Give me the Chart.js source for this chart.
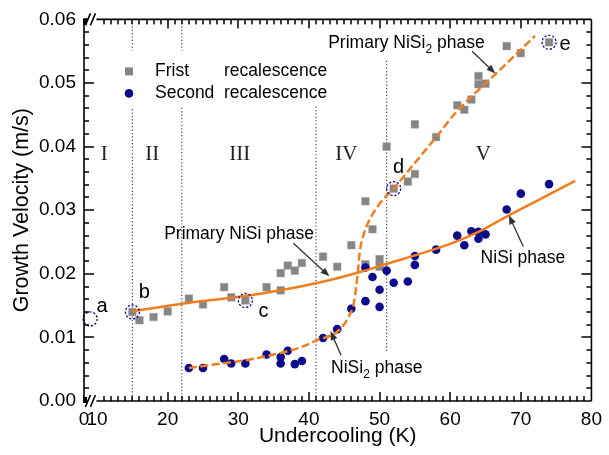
<!DOCTYPE html>
<html>
<head>
<meta charset="utf-8">
<script src="https://cdn.jsdelivr.net/npm/chart.js@4.4.1/dist/chart.umd.min.js"></script>
<style>
  html, body { margin: 0; padding: 0; background: #fff; }
</style>
</head>
<body>
<canvas id="chart" width="609" height="455"></canvas>
<script>
// first recalescence (grey squares)
const firstX = [15, 16, 18, 20, 23, 25, 28, 29, 31, 34, 36, 36, 37, 38, 39, 42, 44, 46, 48, 48, 49, 50, 50,
    51, 52, 54, 55, 55, 58, 61, 62, 63, 64, 64, 65, 68, 70, 74];
const firstV = [0.0140, 0.0127, 0.0132, 0.0141, 0.0161, 0.0152, 0.0179, 0.0163, 0.0158, 0.0179, 0.0174, 0.0201,
    0.0213, 0.0205, 0.0217, 0.0227, 0.0211, 0.0245, 0.0215, 0.0314, 0.0270, 0.0223, 0.0211,
    0.0400, 0.0334, 0.0345, 0.0357, 0.0435, 0.0415, 0.0465, 0.0458, 0.0474, 0.0511, 0.0498, 0.0499, 0.0558, 0.0547, 0.0564];

// second recalescence (navy circles)
const secondX = [23, 25, 28, 29, 31, 34, 36, 36, 37, 38, 39, 42, 44, 46, 48, 48, 49, 50, 50, 51, 52, 54, 55, 55,
    58, 61, 62, 63, 64, 64, 65, 68, 70, 74];
const secondV = [0.0052, 0.0052, 0.0066, 0.0059, 0.0059, 0.0073, 0.0069, 0.0059, 0.0079, 0.0058, 0.0063, 0.0099,
    0.0113, 0.0145, 0.0210, 0.0157, 0.0195, 0.0175, 0.0148, 0.0205, 0.0186, 0.0188, 0.0228, 0.0214,
    0.0238, 0.0260, 0.0245, 0.0267, 0.0266, 0.0255, 0.0262, 0.0301, 0.0326, 0.0341];

// fitted curves
const nisiX = [15, 22, 31, 36, 41, 44, 47, 52, 55, 60, 64, 68, 72, 77.7];
const nisiV = [0.0141, 0.0153, 0.0165, 0.0174, 0.0185, 0.0193, 0.0202, 0.0219, 0.0229, 0.0247, 0.0266, 0.0290, 0.0313, 0.0346];
const nisi2X = [23, 27, 31, 35, 39, 41, 44, 45.5, 46.4, 46.9, 47.2, 47.7, 48.5, 50, 52, 54.3, 57.8, 61, 66.6, 72];
const nisi2V = [0.0052, 0.0058, 0.0064, 0.0073, 0.0085, 0.0095, 0.0109, 0.0130, 0.0157, 0.0200, 0.0235, 0.0260,
    0.0283, 0.0310, 0.0334, 0.0365, 0.0412, 0.0456, 0.0516, 0.0574];

// marked samples a-e
const markNames = ['a', 'b', 'c', 'd', 'e'];
const markX = [9.02, 15, 31, 52, 74];
const markV = [0.0129, 0.0140, 0.0158, 0.0334, 0.0564];

// regime boundaries
const boundX = [15, 22, 41, 51];
const romans = ['I', 'II', 'III', 'IV', 'V'];

const xMin = 8.15, xMax = 80;
const xTicks = [xMin, 10, 20, 30, 40, 50, 60, 70, 80];
const seriesNames = ['Frist recalescence', 'Second recalescence'];

const SANS = "'Liberation Sans', Arial, sans-serif";
const SERIF = "'Liberation Serif', 'Times New Roman', serif";
const ORANGE = '#f07d1e';
const NAVY = '#0b0b8c';
const GREY = '#858585';

const pts = (xs, vs) => xs.map((x, i) => ({x, y: vs[i]}));

// dotted boundary segments (gaps left for the legend and labels)
const boundSegs = [
    [boundX[0], 0.06, 0.0551], [boundX[0], 0.0459, 0],
    [boundX[1], 0.06, 0.0551], [boundX[1], 0.0461, 0],
    [boundX[2], 0.0463, 0],
    [boundX[3], 0.0535, 0.0076]
];

const datasets = [
    {data: pts(markX, markV), showLine: false, pointStyle: 'circle', pointRadius: 7, clip: false,
        pointBorderColor: NAVY, pointBackgroundColor: 'rgba(0,0,0,0)', pointBorderWidth: 1.3, order: 0, dashed: true},
    {data: pts(nisiX, nisiV), showLine: true, borderColor: ORANGE, borderWidth: 2.5, pointRadius: 0,
        cubicInterpolationMode: 'monotone', order: 1},
    {data: pts(nisi2X, nisi2V), showLine: true, borderColor: ORANGE, borderWidth: 2.5, pointRadius: 0,
        borderDash: [8, 3.5], cubicInterpolationMode: 'monotone', order: 1},
    {data: pts(secondX, secondV), showLine: false, pointStyle: 'circle', pointRadius: 4.3,
        pointBackgroundColor: NAVY, pointBorderColor: NAVY, pointBorderWidth: 0, order: 2},
    {data: pts(firstX, firstV), showLine: false, pointStyle: 'rect', pointRadius: 5.4,
        pointBackgroundColor: GREY, pointBorderColor: '#a0a0a0', pointBorderWidth: 0.5, order: 3}
];
boundSegs.forEach(s => {
    datasets.push({data: [{x: s[0], y: s[1]}, {x: s[0], y: s[2]}], showLine: true, borderColor: '#444',
        borderWidth: 1.2, borderDash: [1.2, 2.2], pointRadius: 0, order: 4});
});

const notes = [
    {parts: [['Primary NiSi', 0], [' phase', 0]], at: [30.1, 0.0263], from: [37.8, 0.0248], to: [42.9, 0.0196]},
    {parts: [['Primary NiSi', 0], ['2', 1], [' phase', 0]], at: [53.8, 0.05625], from: [63.1, 0.0550], to: [66.4, 0.0515]},
    {parts: [['NiSi phase', 0]], at: [70.3, 0.0224], from: [70.35, 0.0243], to: [68.3, 0.0292]},
    {parts: [['NiSi', 0], ['2', 1], [' phase', 0]], at: [49.6, 0.0051], from: [44.55, 0.0072], to: [43.05, 0.0110]}
];
const markOffsets = [[12, -12], [12, -19], [18, 11], [5, -21], [16, 2]];
const romanAt = [[11, 0.0388], [17.8, 0.0388], [30.2, 0.0388], [45.3, 0.0388], [64.7, 0.0388]];

function drawRich(ctx, parts, cx, cy) {
    const big = '17.5px ' + SANS, small = '12px ' + SANS;
    let w = 0;
    parts.forEach(p => { ctx.font = p[1] ? small : big; w += ctx.measureText(p[0]).width; });
    let x = cx - w / 2;
    ctx.textAlign = 'left';
    ctx.textBaseline = 'middle';
    parts.forEach(p => {
        ctx.font = p[1] ? small : big;
        ctx.fillText(p[0], x, p[1] ? cy + 6 : cy);
        x += ctx.measureText(p[0]).width;
    });
}

function arrow(ctx, x1, y1, x2, y2) {
    const ang = Math.atan2(y2 - y1, x2 - x1), L = 9, W = 3.5;
    ctx.beginPath();
    ctx.moveTo(x1, y1);
    ctx.lineTo(x2 - Math.cos(ang) * L * 0.8, y2 - Math.sin(ang) * L * 0.8);
    ctx.stroke();
    ctx.beginPath();
    ctx.moveTo(x2, y2);
    ctx.lineTo(x2 - Math.cos(ang) * L - Math.sin(ang) * W, y2 - Math.sin(ang) * L + Math.cos(ang) * W);
    ctx.lineTo(x2 - Math.cos(ang) * L + Math.sin(ang) * W, y2 - Math.sin(ang) * L - Math.cos(ang) * W);
    ctx.closePath();
    ctx.fill();
}

const dashPlugin = {
    id: 'dashPoints',
    beforeDatasetDraw(chart, args) {
        if (chart.data.datasets[args.index].dashed) {
            chart.ctx.save();
            chart.ctx.setLineDash([2.2, 1.8]);
        }
    },
    afterDatasetDraw(chart, args) {
        if (chart.data.datasets[args.index].dashed) chart.ctx.restore();
    }
};

// box frame with the axis break and inward ticks on all four sides
const axisFrame = {
    id: 'axisFrame',
    afterDraw(chart) {
        const {ctx, chartArea: a, scales: {x, y}} = chart;
        ctx.save();
        ctx.setLineDash([]);
        ctx.globalAlpha = 1;
        ctx.globalCompositeOperation = 'source-over';
        const bx = x.getPixelForValue(9.2);
        ctx.strokeStyle = '#000';
        ctx.lineWidth = 1.6;
        ctx.beginPath();
        ctx.moveTo(a.left, a.top); ctx.lineTo(a.left, a.bottom);
        ctx.moveTo(a.right, a.top); ctx.lineTo(a.right, a.bottom);
        [a.top, a.bottom].forEach(py => {
            ctx.moveTo(a.left, py); ctx.lineTo(bx - 4, py);
            ctx.moveTo(bx + 5, py); ctx.lineTo(a.right, py);
            ctx.moveTo(bx - 6, py + 6); ctx.lineTo(bx - 1, py - 6);
            ctx.moveTo(bx - 1, py + 6); ctx.lineTo(bx + 4, py - 6);
        });
        ctx.stroke();
        ctx.fillStyle = '#000';
        ctx.fillRect(a.left - 1, a.top - 1, 4, 6);
        ctx.fillRect(a.left - 1, a.bottom - 4, 4, 6);
        for (let k = 11; k < 80; k++) {
            const px = Math.round(x.getPixelForValue(k));
            const len = k % 10 === 0 ? 9 : 5;
            ctx.fillRect(px - 0.75, a.bottom - len, 1.5, len);
            ctx.fillRect(px - 0.75, a.top, 1.5, len);
        }
        for (let k = 1; k < 30; k++) {
            const py = Math.round(y.getPixelForValue(k * 0.002));
            const len = k % 5 === 0 ? 10 : 5;
            ctx.fillRect(a.left, py - 0.75, len, 1.5);
            ctx.fillRect(a.right - len, py - 0.75, len, 1.5);
        }
        ctx.restore();
    }
};

const decor = {
    id: 'decor',
    afterDraw(chart) {
        const {ctx, chartArea: a, scales: {x, y}} = chart;
        ctx.save();
        ctx.setLineDash([]);

        // roman numerals
        ctx.fillStyle = '#222';
        ctx.font = '21px ' + SERIF;
        ctx.textAlign = 'center';
        ctx.textBaseline = 'middle';
        romans.forEach((r, i) => ctx.fillText(r, x.getPixelForValue(romanAt[i][0]), y.getPixelForValue(romanAt[i][1])));

        // letters beside marked samples
        ctx.fillStyle = '#000';
        ctx.font = '20px ' + SANS;
        markNames.forEach((m, i) => {
            ctx.fillText(m, x.getPixelForValue(markX[i]) + markOffsets[i][0], y.getPixelForValue(markV[i]) + markOffsets[i][1]);
        });

        // phase notes with arrows
        ctx.strokeStyle = '#333';
        ctx.fillStyle = '#333';
        ctx.lineWidth = 1.3;
        notes.forEach(n => {
            arrow(ctx, x.getPixelForValue(n.from[0]), y.getPixelForValue(n.from[1]),
                x.getPixelForValue(n.to[0]), y.getPixelForValue(n.to[1]));
        });
        ctx.fillStyle = '#000';
        notes.forEach(n => drawRich(ctx, n.parts, x.getPixelForValue(n.at[0]), y.getPixelForValue(n.at[1])));

        // legend
        const lx = a.left + 45, ly1 = a.top + 52, ly2 = a.top + 74;
        ctx.fillStyle = GREY;
        ctx.fillRect(lx - 4, ly1 - 4, 8, 8);
        ctx.fillStyle = NAVY;
        ctx.beginPath(); ctx.arc(lx, ly2, 4.3, 0, Math.PI * 2); ctx.fill();
        ctx.fillStyle = '#000';
        ctx.font = '17.5px ' + SANS;
        ctx.textAlign = 'left';
        [ly1, ly2].forEach((ly, i) => {
            const w = seriesNames[i].split(' ');
            ctx.fillText(w[0], a.left + 71, ly);
            ctx.fillText(w[1], a.left + 140, ly);
        });
        ctx.restore();
    }
};

Chart.defaults.color = '#000';
Chart.defaults.font.family = SANS;

new Chart(document.querySelector('#chart'), {
    type: 'scatter',
    data: {datasets},
    options: {
        responsive: false,
        animation: false,
        devicePixelRatio: 1,
        layout: {padding: {top: 15, right: 10, left: 0, bottom: 0}},
        plugins: {legend: {display: false}, tooltip: {enabled: false}},
        scales: {
            x: {
                type: 'linear', min: xMin, max: xMax,
                grid: {display: false, drawTicks: false},
                border: {display: false},
                ticks: {font: {size: 19}, padding: 7, autoSkip: false, maxRotation: 0,
                    callback: v => v === xMin ? '0' : String(v)},
                afterBuildTicks: s => { s.ticks = xTicks.map(v => ({value: v})); },
                afterFit: s => { s.height = 54; },
                title: {display: true, text: 'Undercooling (K)', font: {size: 21}, padding: {top: 0, bottom: 6}}
            },
            y: {
                type: 'linear', min: 0, max: 0.06,
                grid: {display: false, drawTicks: false},
                border: {display: false},
                ticks: {font: {size: 19}, padding: 8, stepSize: 0.01, callback: v => v.toFixed(2)},
                afterFit: s => { s.width = 84; },
                title: {display: true, text: 'Growth Velocity (m/s)', font: {size: 21.5}, padding: {top: 9, bottom: 0}}
            }
        }
    },
    plugins: [axisFrame, dashPlugin, decor]
});
</script>
</body>
</html>
